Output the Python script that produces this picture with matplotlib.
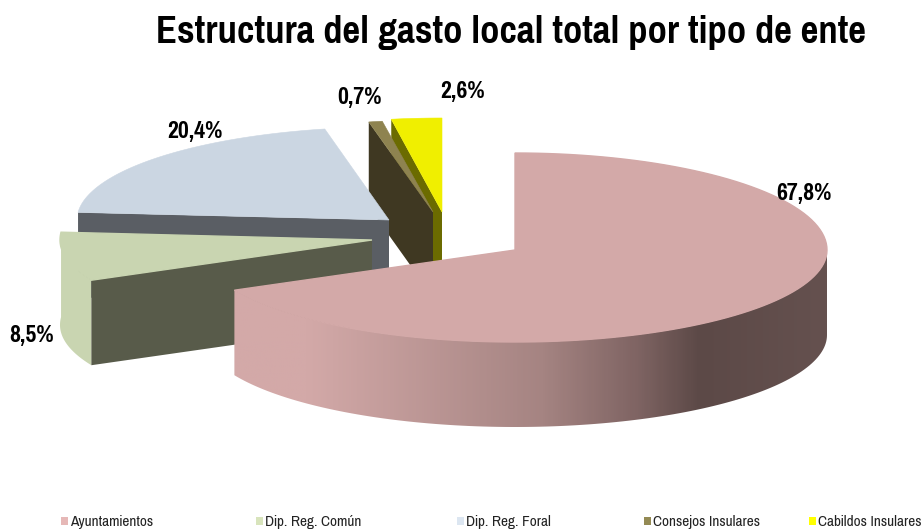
import numpy as np
import matplotlib

matplotlib.use('Agg')
import matplotlib.pyplot as plt
from matplotlib.patches import Polygon, Rectangle
from matplotlib.colors import LinearSegmentedColormap

# narrow fonts first, Arial look-alike as the last resort
plt.rcParams['font.family'] = ['Pragati Narrow', 'PT Sans Narrow', 'Liberation Sans', 'DejaVu Sans']

title = 'Estructura del gasto local total por tipo de ente'
categories = ['Ayuntamientos', 'Dip. Reg. Común', 'Dip. Reg. Foral', 'Consejos Insulares', 'Cabildos Insulares']
values = [67.8, 8.5, 20.4, 0.7, 2.6]

top_colors = ['#d3a9a8', '#c9d5b1', '#cbd6e2', '#8e8350', '#f0ef00']
wall_colors = ['#5c4947', '#585b4a', '#5a5e64', '#3f3822', '#6b6b00']
legend_colors = ['#e6b8b7', '#d8e4bc', '#dce6f1', '#948a54', '#ffff00']

# apex of every exploded slice, in pixels of the picture
apex_x = [515, 372, 389, 433, 442]
apex_y = [250, 240, 220, 212, 212]
ry_back = [97, 96, 93, 92, 94]
ry_front = [92, 92, 93, 92, 94]
label_x = [804, 32, 195, 359, 463]
label_y = [193, 336, 131, 98, 91]
legend_x = [62, 257, 458, 645, 810]

RX = 312
DEPTH = 85


def arc(i, t0, t1, n=120):
    t = np.radians(np.linspace(t0, t1, n))
    ry = np.where(np.cos(t) > 0, ry_back[i], ry_front[i])
    return apex_x[i] + RX * np.sin(t), apex_y[i] - ry * np.cos(t)


def band(x, y):
    return np.column_stack([np.r_[x, x[::-1]], np.r_[y, y[::-1] + DEPTH]])


def fit_width(text, target):
    # scale the font so the text takes the same width as in the reference
    r = fig.canvas.get_renderer()
    text.set_fontsize(text.get_fontsize() * target / text.get_window_extent(r).width)


fig = plt.figure(figsize=(9.24, 5.32), dpi=100, facecolor='w')
ax = fig.add_axes([0, 0, 1, 1])
ax.set_xlim(0, 924)
ax.set_ylim(532, 0)
ax.axis('off')

# slice angles, clockwise from 12 o'clock
edges = np.concatenate([[0], np.cumsum(values)]) / sum(values) * 360

# back to front: yellow, brown, blue, green, pink
for i in [4, 3, 2, 1, 0]:
    t0, t1 = edges[i], edges[i + 1]
    x, y = arc(i, t0, t1)
    z = 1 + (4 - i) * 0.1

    if i == 0:
        # outer rim with the gradient, only the part facing us
        rx, ry = arc(i, 90, t1)
        rim = Polygon(band(rx, ry), closed=True, fc='none', ec='none')
        ax.add_patch(rim)
        cmap = LinearSegmentedColormap.from_list('rim', [(0, '#d3a9a8'), (0.12, '#d3a9a8'), (0.52, '#a58482'),
                                                         (0.68, '#7f6463'), (0.785, '#5c4947'), (1, '#65514f')])
        img = ax.imshow(np.linspace(0, 1, 300).reshape(1, -1), extent=[234, 828, 440, 240], cmap=cmap,
                        aspect='auto', zorder=z)
        img.set_clip_path(rim)
        ax.set_xlim(0, 924)
        ax.set_ylim(532, 0)
    else:
        if i == 1:
            ax.add_patch(Polygon(band(x, y), closed=True, fc=top_colors[i], ec='none', zorder=z))
        # radial wall on the side of the slice that faces the viewer
        wx, wy = arc(i, t0, t0, 1)
        wall = [(apex_x[i], apex_y[i]), (wx[0], wy[0]), (wx[0], wy[0] + DEPTH), (apex_x[i], apex_y[i] + DEPTH)]
        ax.add_patch(Polygon(wall, closed=True, fc=wall_colors[i], ec='none', zorder=z))

    # a thicker edge hides the seam where the top meets the rim
    top = np.column_stack([np.r_[apex_x[i], x], np.r_[apex_y[i], y]])
    ax.add_patch(Polygon(top, closed=True, fc=top_colors[i], ec=top_colors[i], lw=1.0 if i < 2 else 0.4,
                         zorder=z + 0.05))

fig.canvas.draw()

size = None
for v, lx, ly in zip(values, label_x, label_y):
    t = ax.text(lx, ly, '{:.1f}%'.format(v).replace('.', ','), fontsize=18, fontweight='bold', ha='center',
                va='center', color='k', zorder=5)
    if size is None:
        fit_width(t, 55)
        size = t.get_fontsize()
    t.set_fontsize(size)

t = ax.text(511, 33, title, fontsize=33, fontweight='bold', ha='center', va='center', color='k')
fit_width(t, 710)

size = None
for name, c, lx in zip(categories, legend_colors, legend_x):
    ax.add_patch(Rectangle((lx - 1, 517), 7, 8, fc=c, ec='none'))
    t = ax.text(lx + 8, 522, name, fontsize=10.5, ha='left', va='center', color='#222222')
    if size is None:
        fit_width(t, 83)
        size = t.get_fontsize()
    t.set_fontsize(size)

plt.savefig('out.png', dpi=100)
